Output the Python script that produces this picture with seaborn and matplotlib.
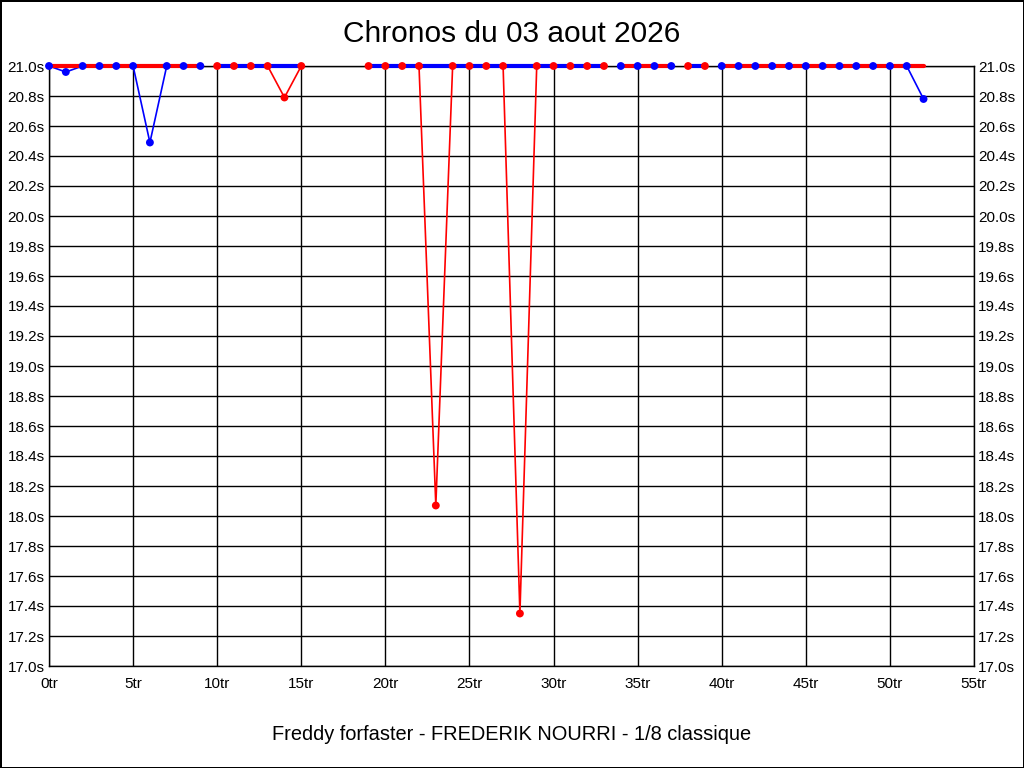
import seaborn as sns
import matplotlib.pyplot as plt
import pandas as pd
from matplotlib.ticker import FuncFormatter, MultipleLocator

# Tours et chronos (plafonnées à 21.0s)
tours = list(range(0, 16)) + list(range(19, 53))
chronos = [21.0, 20.96, 21.0, 21.0, 21.0, 21.0, 20.49, 21.0, 21.0, 21.0,
           21.0, 21.0, 21.0, 21.0, 20.79, 21.0,
           21.0, 21.0, 21.0, 21.0, 18.07, 21.0, 21.0, 21.0, 21.0, 17.35,
           21.0, 21.0, 21.0, 21.0, 21.0,
           21.0, 21.0, 21.0, 21.0,
           21.0, 21.0,
           21.0, 21.0, 21.0, 21.0, 21.0, 21.0, 21.0, 21.0, 21.0, 21.0, 21.0, 21.0, 20.78]
couleurs = ["bleu"] * 10 + ["rouge"] * 6 + ["rouge"] * 15 + ["bleu"] * 4 + ["rouge"] * 2 + ["bleu"] * 13
plafond = 21.0

titre = "Chronos du 03 aout 2026"
legende_x = "Freddy forfaster - FREDERIK NOURRI - 1/8 classique"

palette = {"bleu": "#0000ff", "rouge": "#ff0000"}
opposee = {"bleu": "rouge", "rouge": "bleu"}

# Construire les séquences de tours consécutifs de même couleur
dados = pd.DataFrame({"tour": tours, "chrono": chronos, "couleur": couleurs})
rupture = (dados["couleur"] != dados["couleur"].shift()) | (dados["tour"].diff() != 1)
dados["serie"] = rupture.cumsum()

# Ligne épaisse au plafond, couleur opposée, sur chaque séquence
haut = dados.copy()
haut["chrono"] = plafond
haut["couleur"] = haut["couleur"].map(opposee)

sns.set_theme(style="white")
plt.rcParams["font.family"] = ["Liberation Sans", "DejaVu Sans"]

fig = plt.figure(figsize=(10.24, 7.68), dpi=100)
fig.patch.set_edgecolor("black")
fig.patch.set_linewidth(2)
ax = fig.add_axes([49 / 1024, 1 - 666 / 768, 925 / 1024, 600 / 768])

sns.lineplot(data=dados, x="tour", y="chrono", hue="couleur", units="serie",
             estimator=None, palette=palette, linewidth=1.2, legend=False,
             ax=ax, zorder=3)
sns.lineplot(data=haut, x="tour", y="chrono", hue="couleur", units="serie",
             estimator=None, palette=palette, linewidth=3, legend=False,
             ax=ax, zorder=4)
sns.scatterplot(data=dados, x="tour", y="chrono", hue="couleur", palette=palette,
                s=32, linewidth=0, legend=False, ax=ax, zorder=5, clip_on=False)
for coll in ax.collections:
    coll.set_clip_on(False)
for ln in ax.lines:
    ln.set_clip_on(False)

ax.set_xlim(0, 55)
ax.set_ylim(17.0, 21.0)
ax.xaxis.set_major_locator(MultipleLocator(5))
ax.yaxis.set_major_locator(MultipleLocator(0.2))
ax.xaxis.set_major_formatter(FuncFormatter(lambda v, p: f"{int(round(v))}tr"))
ax.yaxis.set_major_formatter(FuncFormatter(lambda v, p: f"{v:.1f}s"))
ax.grid(True, color="black", linewidth=1)
ax.set_axisbelow(True)
for sp in ax.spines.values():
    sp.set_color("black")
    sp.set_linewidth(1)
ax.tick_params(axis="both", length=0, labelsize=11, colors="black")
ax.tick_params(axis="x", pad=8)
ax.tick_params(axis="y", pad=3, labelright=True, right=True)

ax.set_xlabel("")
ax.set_ylabel("")
fig.text(0.5, 1 - 735 / 768, legende_x, fontsize=14.4, color="black",
         ha="center", va="center")
fig.text(0.5, 1 - 34 / 768, titre, fontsize=21.5, color="black",
         ha="center", va="center")

plt.savefig("out.png", dpi=100)
plt.close()
